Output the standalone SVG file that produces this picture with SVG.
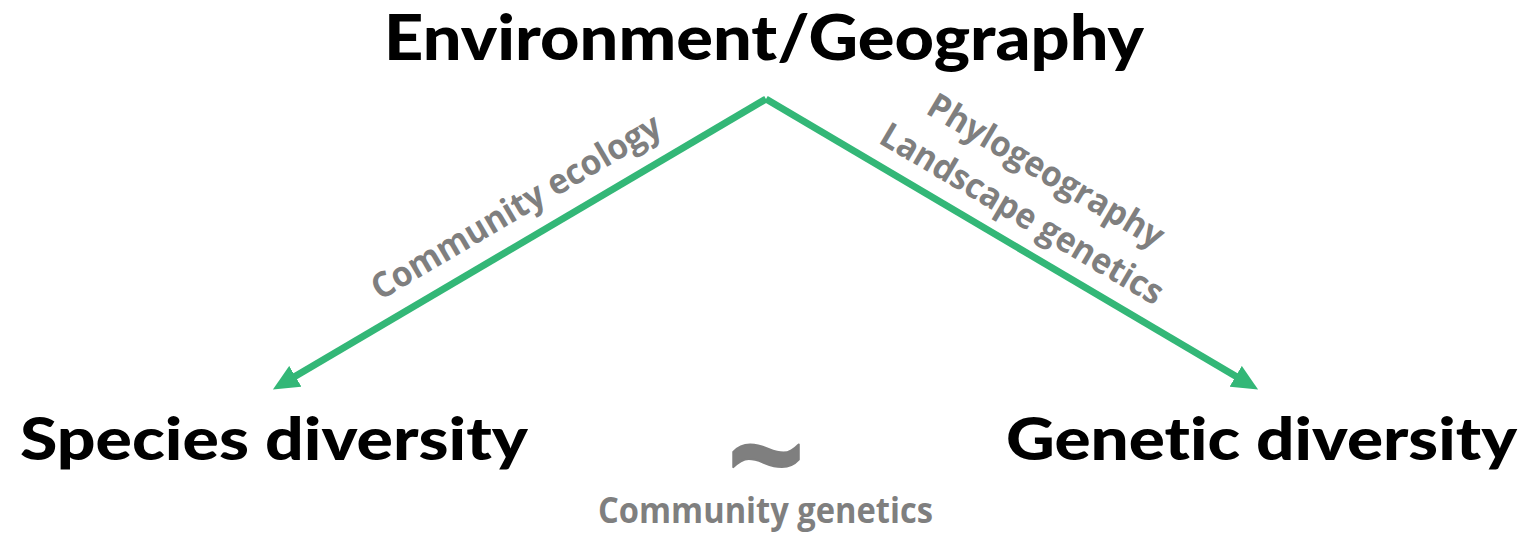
<svg xmlns="http://www.w3.org/2000/svg" width="1529" height="540" viewBox="0 0 1529 540">
  <style>
    text { font-variant-ligatures: none; }
    .title { font-family: Lato, "Open Sans", "Liberation Sans", sans-serif; font-weight: 900; fill: #000000; }
    .label { font-family: "Open Sans", Lato, "Liberation Sans", sans-serif; font-weight: 700; fill: #7F7F7F; }
    .edge { stroke: #33B777; stroke-width: 7; fill: none; }
  </style>
  <defs>
    <marker id="arrow" viewBox="0 -12 26 24" refX="5" refY="0" markerWidth="26" markerHeight="24" markerUnits="userSpaceOnUse" orient="auto">
      <path d="M0,-12 L26,0 L0,12 Z" fill="#33B777"/>
    </marker>
  </defs>
  <rect width="1529" height="540" fill="#FFFFFF"/>

  <g id="connectors">
    <line class="edge" x1="766" y1="99" x2="291" y2="378.8" marker-end="url(#arrow)"/>
    <line class="edge" x1="766" y1="99" x2="1240" y2="378.8" marker-end="url(#arrow)"/>
    <text class="label" font-size="35" text-anchor="middle" textLength="330" lengthAdjust="spacingAndGlyphs" transform="translate(522,217) rotate(-30.56)">Community ecology</text>
    <text class="label" font-size="35" text-anchor="middle" textLength="268" lengthAdjust="spacingAndGlyphs" transform="translate(1040,181) rotate(30.56)">Phylogeography</text>
    <text class="label" font-size="35" text-anchor="middle" textLength="322" lengthAdjust="spacingAndGlyphs" transform="translate(1016,224) rotate(30.56)">Landscape genetics</text>
  </g>

  <g id="node-environment">
    <text class="title" x="384" y="60" font-size="63" textLength="760" lengthAdjust="spacingAndGlyphs">Environment/Geography</text>
  </g>
  <g id="node-species">
    <text class="title" x="20" y="460" font-size="59" textLength="508" lengthAdjust="spacingAndGlyphs">Species diversity</text>
  </g>
  <g id="node-genetic">
    <text class="title" x="1006" y="460" font-size="59" textLength="511" lengthAdjust="spacingAndGlyphs">Genetic diversity</text>
  </g>
  <g id="node-community-genetics">
    <text class="label" x="766" y="503" font-size="135" font-weight="800" text-anchor="middle" stroke="#7F7F7F" stroke-width="2" stroke-linejoin="round">~</text>
    <text class="label" x="598" y="523" font-size="35" textLength="335" lengthAdjust="spacingAndGlyphs">Community genetics</text>
  </g>
</svg>
